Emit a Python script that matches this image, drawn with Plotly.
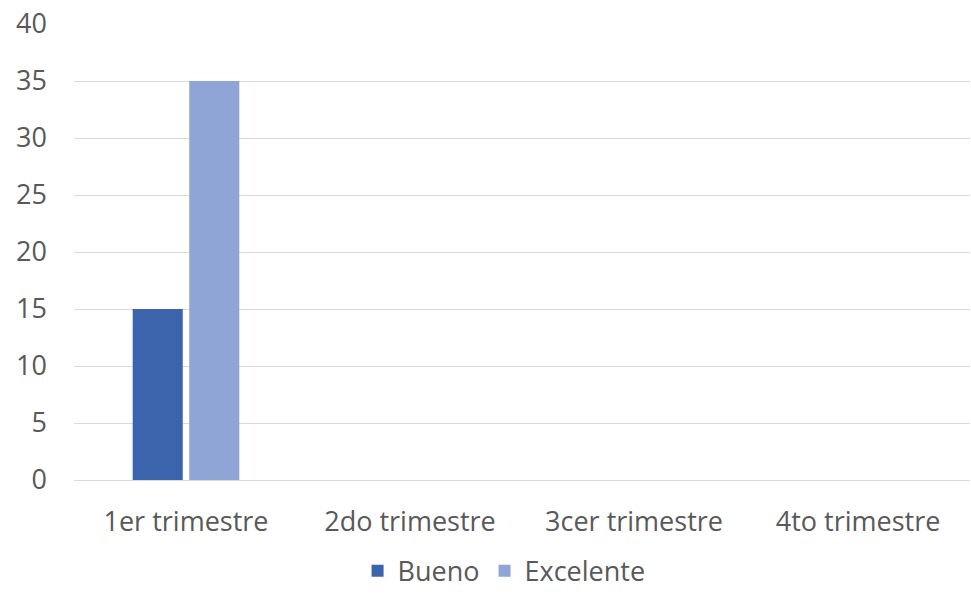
import plotly.graph_objects as go

categories = ["1er trimestre", "2do trimestre", "3cer trimestre", "4to trimestre"]
bueno = [15, None, None, None]
excelente = [35, None, None, None]
y_ticks = [0, 5, 10, 15, 20, 25, 30, 35, 40]

fig = go.Figure()
fig.add_trace(go.Bar(name="Bueno", x=categories, y=bueno, marker_color="#3C64AC",
                     marker_line_width=0))
fig.add_trace(go.Bar(name="Excelente", x=categories, y=excelente, marker_color="#8FA5D5",
                     marker_line_width=0))

font_family = "Open Sans, Liberation Sans, sans-serif"
fig.update_layout(
    width=971, height=596,
    barmode="group", bargap=0.495, bargroupgap=0.115,
    paper_bgcolor="white", plot_bgcolor="white",
    margin=dict(l=74, r=1, t=24, b=116, autoexpand=False),
    font=dict(family=font_family, size=27, color="#595959"),
    showlegend=True,
    legend=dict(orientation="h", x=0.48, xanchor="center", y=-0.254, yanchor="bottom",
                font=dict(size=27, color="#595959"), itemwidth=30),
    xaxis=dict(showgrid=False, showline=True, linecolor="#D9D9D9", linewidth=1,
               ticks="", ticklabelstandoff=18, tickfont=dict(size=27), automargin=False),
    yaxis=dict(range=[0, 40], tickvals=y_ticks, showgrid=True, gridcolor="#D9D9D9",
               gridwidth=1, zeroline=False, showline=False, ticks="",
               ticklabelstandoff=26, tickfont=dict(size=27), automargin=False),
)

fig.write_html("out.html", config={"displayModeBar": False},
               post_script="document.body.style.margin='0';document.body.style.overflow='hidden';")
